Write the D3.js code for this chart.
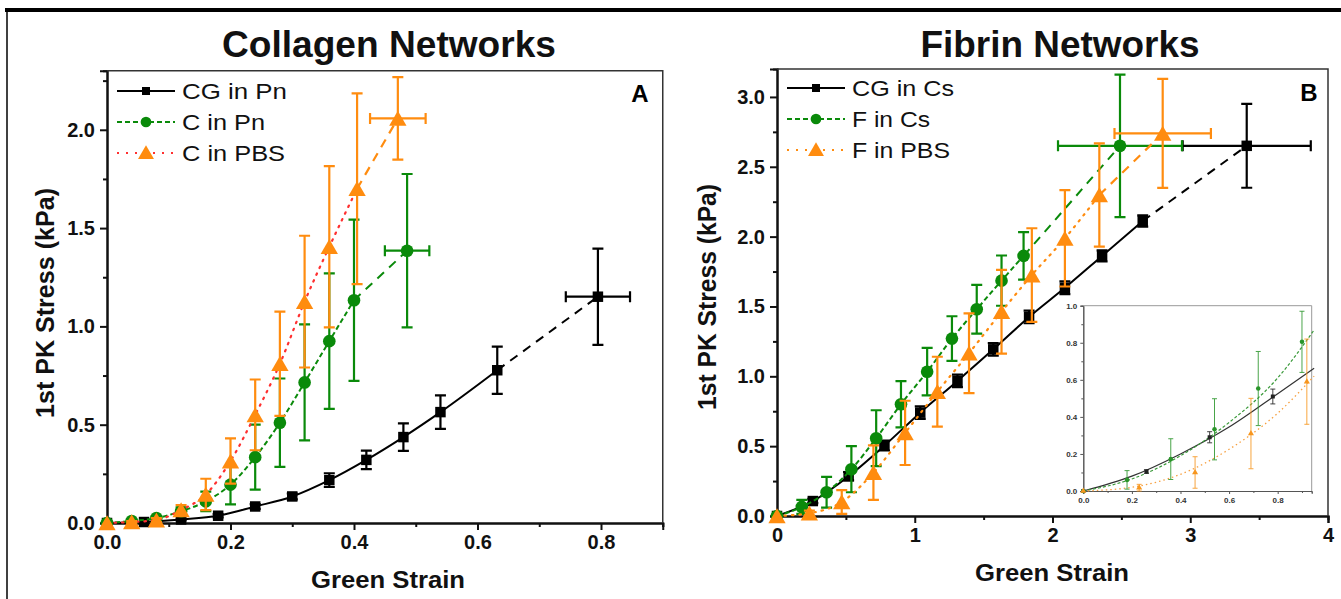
<!DOCTYPE html>
<html><head><meta charset="utf-8">
<script src="https://cdn.jsdelivr.net/npm/d3@7/dist/d3.min.js"></script>
<style>
html,body{margin:0;padding:0;background:#fff;}
svg{display:block;font-family:"Liberation Sans",Arial,sans-serif;}
</style></head>
<body><svg id="c" width="1341" height="599"></svg>
<script>
// ---------- DATA ----------
// Panel A: Collagen networks
const cgPnX   = [0, 0.06, 0.12, 0.18, 0.24, 0.30, 0.36, 0.42, 0.48, 0.54, 0.632, 0.795];
const cgPnY   = [0, 0.005, 0.018, 0.037, 0.084, 0.135, 0.218, 0.321, 0.437, 0.564, 0.777, 1.151];
const cgPnErr = [0, 0, 0.005, 0.008, 0.012, 0.015, 0.035, 0.047, 0.07, 0.085, 0.12, 0.245];
const cgPnXErr = 0.052;

const cPnX   = [0, 0.04, 0.08, 0.12, 0.16, 0.20, 0.24, 0.28, 0.32, 0.36, 0.40, 0.486];
const cPnY   = [0, 0.01, 0.025, 0.06, 0.11, 0.195, 0.335, 0.51, 0.715, 0.925, 1.133, 1.385];
const cPnErr = [0, 0.005, 0.01, 0.02, 0.05, 0.1, 0.165, 0.225, 0.295, 0.345, 0.41, 0.39];
const cPnXErr = 0.036;

const cPbsX   = [0, 0.04, 0.08, 0.12, 0.16, 0.20, 0.24, 0.28, 0.32, 0.36, 0.405, 0.471];
const cPbsY   = [0, 0.005, 0.015, 0.066, 0.145, 0.315, 0.55, 0.81, 1.126, 1.405, 1.70, 2.058];
const cPbsErr = [0, 0.005, 0.01, 0.025, 0.08, 0.115, 0.18, 0.265, 0.335, 0.41, 0.485, 0.21];
const cPbsXErr = 0.045;

// Panel B: Fibrin networks
const cgCsX   = [0, 0.26, 0.52, 0.78, 1.04, 1.31, 1.57, 1.83, 2.09, 2.36, 2.655, 3.41];
const cgCsY   = [0, 0.107, 0.285, 0.504, 0.74, 0.967, 1.193, 1.425, 1.634, 1.862, 2.112, 2.65];
const cgCsErr = [0, 0.015, 0.03, 0.035, 0.045, 0.045, 0.045, 0.045, 0.045, 0.04, 0.04, 0.3];
const cgCsXErr = 0.465;

const fCsX   = [0, 0.18, 0.36, 0.54, 0.72, 0.90, 1.09, 1.27, 1.45, 1.63, 1.79, 2.49];
const fCsY   = [0, 0.065, 0.17, 0.335, 0.557, 0.80, 1.033, 1.27, 1.48, 1.685, 1.862, 2.65];
const fCsErr = [0, 0.05, 0.11, 0.165, 0.2, 0.165, 0.17, 0.16, 0.175, 0.18, 0.17, 0.51];
const fCsXErr = 0.45;

const fPbsX   = [0, 0.235, 0.47, 0.70, 0.93, 1.164, 1.394, 1.63, 1.85, 2.09, 2.34, 2.80];
const fPbsY   = [0, 0.02, 0.1, 0.31, 0.595, 0.89, 1.165, 1.462, 1.725, 1.988, 2.298, 2.739];
const fPbsErr = [0, 0.018, 0.085, 0.195, 0.23, 0.25, 0.285, 0.3, 0.335, 0.345, 0.37, 0.39];
const fPbsXErr = 0.35;

// Inset (small strain region of panel B)
const inCgX = [0, 0.26, 0.52, 0.78];
const inCgY = [0, 0.105, 0.29, 0.51];
const inCgErr = [0, 0.01, 0.03, 0.04];
const inFCsX = [0, 0.18, 0.36, 0.54, 0.72, 0.90];
const inFCsY = [0, 0.06, 0.172, 0.333, 0.553, 0.805];
const inFCsErr = [0, 0.05, 0.11, 0.165, 0.2, 0.165];
const inFPbsX = [0, 0.23, 0.46, 0.69, 0.92];
const inFPbsY = [0, 0.018, 0.1, 0.31, 0.59];
const inFPbsErr = [0, 0.018, 0.085, 0.19, 0.23];
// fitted curves shown in inset
const fitX = [0, 0.2, 0.4, 0.6, 0.8, 0.95];
const fitCgY = [0, 0.08, 0.2, 0.345, 0.525, 0.662];
const fitFCsY = [0, 0.065, 0.19, 0.37, 0.61, 0.869];
const fitFPbsY = [0, 0.02, 0.09, 0.225, 0.42, 0.62];

// ticks
const aXTicks = [0, 0.2, 0.4, 0.6, 0.8];
const aXMinor = [0.1, 0.3, 0.5, 0.7, 0.9];
const aYTicks = [0, 0.5, 1.0, 1.5, 2.0];
const aYMinor = [0.25, 0.75, 1.25, 1.75, 2.25];
const bXTicks = [0, 1, 2, 3, 4];
const bXMinor = [0.5, 1.5, 2.5, 3.5];
const bYTicks = [0, 0.5, 1.0, 1.5, 2.0, 2.5, 3.0];
const bYMinor = [0.25, 0.75, 1.25, 1.75, 2.25, 2.75];
const inXTicks = [0, 0.2, 0.4, 0.6, 0.8];
const inXMinor = [0.1, 0.3, 0.5, 0.7, 0.9];
const inYTicks = [0, 0.2, 0.4, 0.6, 0.8, 1.0];
const inYMinor = [0.1, 0.3, 0.5, 0.7, 0.9];

// ---------- DRAW ----------
const svg = d3.select("#c");
const BLACK = "#000", GREEN = "#0a8a0a", ORANGE = "#ff8c0f", RED = "#ff3030";

// outer page border
svg.append("line").attr("x1",5).attr("x2",1341).attr("y1",10).attr("y2",10).attr("stroke","#000").attr("stroke-width",4);
svg.append("line").attr("x1",7).attr("x2",7).attr("y1",10).attr("y2",599).attr("stroke","#000").attr("stroke-width",1.5);

function zip(xs, ys, es){ return xs.map((x,i)=>({x:x, y:ys[i], e:es?es[i]:0})); }

function axes(g, x, y, o){
  const fmtY = d3.format(".1f");
  g.append("g").attr("transform",`translate(0,${y.range()[0]})`)
    .call(d3.axisBottom(x).tickValues(o.xt).tickSize(o.tl).tickPadding(o.pad).tickFormat(o.xf));
  g.append("g").attr("transform",`translate(0,${y.range()[0]})`)
    .call(d3.axisBottom(x).tickValues(o.xm).tickSize(o.tm).tickFormat(""));
  g.append("g").attr("transform",`translate(${x.range()[0]},0)`)
    .call(d3.axisLeft(y).tickValues(o.yt).tickSize(o.tl).tickPadding(o.pad).tickFormat(fmtY));
  g.append("g").attr("transform",`translate(${x.range()[0]},0)`)
    .call(d3.axisLeft(y).tickValues(o.ym).tickSize(o.tm).tickFormat(""));
  g.selectAll(".domain").attr("stroke", o.ax).attr("stroke-width", o.aw);
  g.selectAll(".tick line").attr("stroke", o.ax).attr("stroke-width", o.tw);
  g.selectAll(".tick text").attr("font-size", o.fs).attr("font-weight","bold").attr("fill", o.tc)
     .attr("font-family","'Liberation Sans',Arial,sans-serif");
  g.append("path").attr("d",`M${x.range()[0]},${y.range()[1]}H${x.range()[1]}V${y.range()[0]}`)
    .attr("fill","none").attr("stroke",o.fc).attr("stroke-width",o.fw);
}

function series(g, x, y, pts, s){
  const n = pts.length;
  const main = pts.slice(0, n-1), last = pts.slice(n-2);
  const line = d3.line().x(d=>x(d.x)).y(d=>y(d.y)).curve(d3.curveMonotoneX);
  g.append("path").datum(main).attr("d", line).attr("fill","none")
    .attr("stroke", s.lc).attr("stroke-width", s.lw).attr("stroke-dasharray", s.dash)
    .attr("stroke-linecap", s.cap||"butt");
  g.append("path").datum(last).attr("d", d3.line().x(d=>x(d.x)).y(d=>y(d.y))).attr("fill","none")
    .attr("stroke", s.lastColor).attr("stroke-width", s.lw).attr("stroke-dasharray", s.lastDash);
  const eb = g.append("g").attr("stroke", s.c).attr("stroke-width", s.ew).attr("fill","none");
  pts.forEach(d=>{
    if (d.e > 0){
      const cx = x(d.x), y1 = y(d.y + d.e), y2 = y(d.y - d.e);
      eb.append("path").attr("d",`M${cx},${y1}V${y2}M${cx-s.cw},${y1}H${cx+s.cw}M${cx-s.cw},${y2}H${cx+s.cw}`);
    }
  });
  if (s.xerr){
    const d = pts[n-1];
    const cy = y(d.y), x1 = x(d.x - s.xerr), x2 = x(d.x + s.xerr);
    eb.append("path").attr("d",`M${x1},${cy}H${x2}M${x1},${cy-s.cw}V${cy+s.cw}M${x2},${cy-s.cw}V${cy+s.cw}`);
  }
  const sym = d3.symbol().type(s.shape).size(s.ms);
  g.append("g").selectAll("path").data(pts).join("path")
    .attr("transform", d=>`translate(${x(d.x)},${y(d.y) + (s.shape===d3.symbolTriangle ? s.ms*0.018 : 0)})`)
    .attr("d", sym).attr("fill", s.c);
}

function legend(g, x0, ys, items){
  items.forEach((it,i)=>{
    const yy = ys[i];
    g.append("line").attr("x1",x0).attr("x2",x0+58).attr("y1",yy).attr("y2",yy)
      .attr("stroke", it.lc).attr("stroke-width",2).attr("stroke-dasharray", it.dash);
    g.append("path").attr("transform",`translate(${x0+29},${yy + (it.shape===d3.symbolTriangle?1.5:0)})`)
      .attr("d", d3.symbol().type(it.shape).size(it.ms)).attr("fill", it.c);
    g.append("text").attr("x", x0+65).attr("y", yy+8).attr("font-size",22).attr("fill","#111")
      .attr("textLength", it.w).attr("lengthAdjust","spacingAndGlyphs").text(it.label);
  });
}

const axOpt = {tl:7, tm:4, pad:5, ax:"#111", aw:2, tw:2, fs:20, tc:"#111", fc:"#333", fw:1.5};

// ---- Panel A ----
const xA = d3.scaleLinear().domain([0,0.9]).range([107,662.75]);
const yA = d3.scaleLinear().domain([0,2.3]).range([523,70.8]);
const gA = svg.append("g");
axes(gA, xA, yA, Object.assign({}, axOpt, {xt:aXTicks, xm:aXMinor, yt:aYTicks, ym:aYMinor, xf:d3.format(".1f")}));
series(gA, xA, yA, zip(cgPnX,cgPnY,cgPnErr), {c:BLACK, lc:BLACK, lw:2, dash:null, lastDash:"9,7", lastColor:BLACK,
  ew:2.2, cw:5.5, shape:d3.symbolSquare, ms:110, xerr:cgPnXErr});
series(gA, xA, yA, zip(cPnX,cPnY,cPnErr), {c:GREEN, lc:GREEN, lw:2, dash:"5,3", lastDash:"9,7", lastColor:GREEN,
  ew:2.2, cw:5.5, shape:d3.symbolCircle, ms:125, xerr:cPnXErr});
series(gA, xA, yA, zip(cPbsX,cPbsY,cPbsErr), {c:ORANGE, lc:RED, lw:2.2, dash:"1.5,6", cap:"round", lastDash:"9,7", lastColor:ORANGE,
  ew:2.2, cw:5.5, shape:d3.symbolTriangle, ms:130, xerr:cPbsXErr});
legend(gA, 117, [91,122,153], [
  {label:"CG in Pn", w:105, c:BLACK, lc:BLACK, dash:null, shape:d3.symbolSquare, ms:64},
  {label:"C in Pn", w:83, c:GREEN, lc:GREEN, dash:"5,3", shape:d3.symbolCircle, ms:90},
  {label:"C in PBS", w:103, c:ORANGE, lc:RED, dash:"2,7", shape:d3.symbolTriangle, ms:110}
]);
gA.append("text").attr("x",640).attr("y",102).attr("text-anchor","middle").attr("font-size",24).attr("font-weight","bold").text("A");

// ---- Panel B ----
const xB = d3.scaleLinear().domain([0,4]).range([777,1328]);
const yB = d3.scaleLinear().domain([0,3.2]).range([516,69]);
const gB = svg.append("g");
axes(gB, xB, yB, Object.assign({}, axOpt, {xt:bXTicks, xm:bXMinor, yt:bYTicks, ym:bYMinor, xf:d3.format("d")}));
series(gB, xB, yB, zip(cgCsX,cgCsY,cgCsErr), {c:BLACK, lc:BLACK, lw:2, dash:null, lastDash:"9,7", lastColor:BLACK,
  ew:2.2, cw:5.5, shape:d3.symbolSquare, ms:110, xerr:cgCsXErr});
series(gB, xB, yB, zip(fCsX,fCsY,fCsErr), {c:GREEN, lc:GREEN, lw:2, dash:"5,3", lastDash:"9,7", lastColor:GREEN,
  ew:2.2, cw:5.5, shape:d3.symbolCircle, ms:125, xerr:fCsXErr});
series(gB, xB, yB, zip(fPbsX,fPbsY,fPbsErr), {c:ORANGE, lc:ORANGE, lw:2.2, dash:"1.5,6", cap:"round", lastDash:"9,7", lastColor:ORANGE,
  ew:2.2, cw:5.5, shape:d3.symbolTriangle, ms:130, xerr:fPbsXErr});
legend(gB, 787, [88,119,150], [
  {label:"CG in Cs", w:102, c:BLACK, lc:BLACK, dash:null, shape:d3.symbolSquare, ms:64},
  {label:"F in Cs", w:78, c:GREEN, lc:GREEN, dash:"5,3", shape:d3.symbolCircle, ms:90},
  {label:"F in PBS", w:98, c:ORANGE, lc:ORANGE, dash:"2,7", shape:d3.symbolTriangle, ms:110}
]);
gB.append("text").attr("x",1309).attr("y",101).attr("text-anchor","middle").attr("font-size",24).attr("font-weight","bold").text("B");

// ---- Inset ----
const xI = d3.scaleLinear().domain([0,0.94]).range([1083.3,1311.7]);
const yI = d3.scaleLinear().domain([0,1]).range([491,305.7]);
const gI = svg.append("g");
gI.append("rect").attr("x",1083.3).attr("y",305.7).attr("width",228.4).attr("height",185.3).attr("fill","#fff");
axes(gI, xI, yI, {tl:3, tm:2, pad:3, ax:"#555", aw:1, tw:1, fs:8, tc:"#333", fc:"#999", fw:1,
  xt:inXTicks, xm:inXMinor, yt:inYTicks, ym:inYMinor, xf:d3.format(".1f")});
const fitLine = d3.line().x(d=>xI(d.x)).y(d=>yI(d.y)).curve(d3.curveMonotoneX);
gI.append("path").datum(zip(fitX,fitCgY)).attr("d",fitLine).attr("fill","none").attr("stroke","#333").attr("stroke-width",1.2);
gI.append("path").datum(zip(fitX,fitFCsY)).attr("d",fitLine).attr("fill","none").attr("stroke","#3a9a3a").attr("stroke-width",1.2).attr("stroke-dasharray","3,2");
gI.append("path").datum(zip(fitX,fitFPbsY)).attr("d",fitLine).attr("fill","none").attr("stroke","#f7a040").attr("stroke-width",1.3).attr("stroke-dasharray","1.5,3");
function inPts(xs, ys, es, c, shape, ms){
  const eb = gI.append("g").attr("stroke",c).attr("stroke-width",1).attr("fill","none").attr("opacity",0.85);
  xs.forEach((xv,i)=>{
    if (es[i] > 0){
      const cx = xI(xv), y1 = yI(ys[i]+es[i]), y2 = yI(Math.max(0,ys[i]-es[i]));
      eb.append("path").attr("d",`M${cx},${y1}V${y2}M${cx-2.5},${y1}H${cx+2.5}M${cx-2.5},${y2}H${cx+2.5}`);
    }
  });
  gI.append("g").selectAll("path").data(xs.map((xv,i)=>({x:xv,y:ys[i]}))).join("path")
    .attr("transform", d=>`translate(${xI(d.x)},${yI(d.y)})`).attr("d", d3.symbol().type(shape).size(ms)).attr("fill", c);
}
inPts(inCgX, inCgY, inCgErr, "#222", d3.symbolSquare, 16);
inPts(inFCsX, inFCsY, inFCsErr, "#2a952a", d3.symbolCircle, 16);
inPts(inFPbsX, inFPbsY, inFPbsErr, "#f7961e", d3.symbolTriangle, 16);

// ---- Titles and axis labels ----
const T = (x,y,txt,fs,w,rot)=>{
  const t = svg.append("text").attr("x",x).attr("y",y).attr("text-anchor","middle").attr("font-size",fs)
    .attr("font-weight","bold").attr("fill","#111").attr("textLength",w).attr("lengthAdjust","spacingAndGlyphs").text(txt);
  if (rot) t.attr("transform",`rotate(-90,${x},${y})`);
  return t;
};
T(389,57,"Collagen Networks",36,334);
T(1060,57,"Fibrin Networks",36,279);
T(388,588,"Green Strain",24,154);
T(1052,581,"Green Strain",24,154);
T(54,303,"1st PK Stress (kPa)",25,230,true);
T(716,297,"1st PK Stress (kPa)",25,226,true);
</script></body></html>
